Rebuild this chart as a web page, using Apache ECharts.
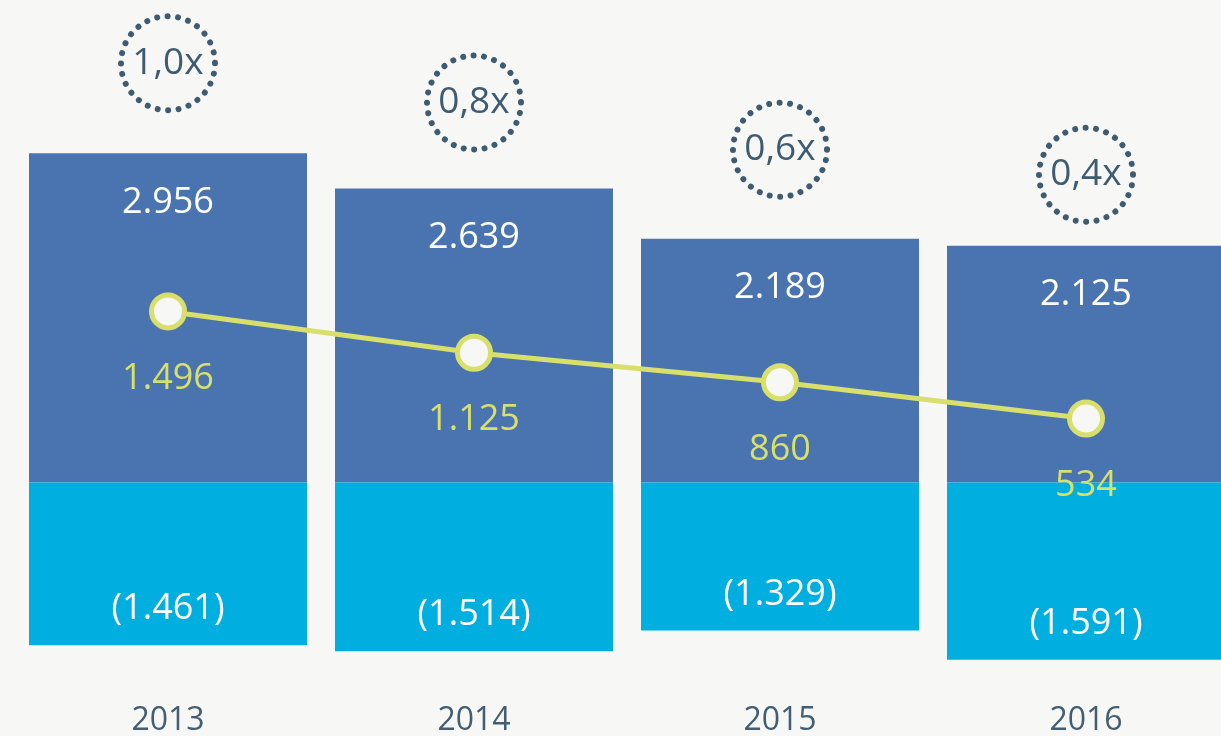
<!DOCTYPE html>
<html>
<head>
<meta charset="utf-8">
<script src="https://cdn.jsdelivr.net/npm/echarts@6/dist/echarts.min.js"></script>
<style>
html,body{margin:0;padding:0;background:#f7f7f5;}
#c{width:1221px;height:736px;}
</style>
</head>
<body>
<div id="c"></div>
<script>
const years = ['2013', '2014', '2015', '2016'];
const positiveValues = [2956, 2639, 2189, 2125];
const negativeValues = [-1461, -1514, -1329, -1591];
const netValues = [1496, 1125, 860, 534];
const ratioLabels = ['1,0x', '0,8x', '0,6x', '0,4x'];

const circleOffsets = [-90, -86, -89, -71];
const FONT = '"Open Sans", "Noto Sans", sans-serif';
const fmt = v => Math.abs(v).toString().replace(/\B(?=(\d{3})+(?!\d))/g, '.');

const chart = echarts.init(document.getElementById('c'));
chart.setOption({
  backgroundColor: '#f7f7f5',
  animation: false,
  grid: { left: 15, top: 37, width: 1224, height: 646, outerBoundsMode: 'none', containLabel: false },
  xAxis: {
    type: 'category',
    data: years,
    axisLine: { show: false },
    axisTick: { show: false },
    axisLabel: { color: '#415e74', fontSize: 32, fontFamily: FONT, margin: 22 }
  },
  yAxis: [
    { type: 'value', min: -1800, max: 4000, show: false },
    { type: 'value', min: -1840, max: 3960, show: false }
  ],
  series: [
    {
      type: 'bar', stack: 'a', data: positiveValues, barWidth: 278,
      itemStyle: { color: '#4a74b0' },
      label: { show: true, position: 'insideTop', distance: 31, color: '#ffffff',
        fontSize: 36, fontFamily: FONT, formatter: p => fmt(p.value) }
    },
    {
      type: 'bar', stack: 'a', data: negativeValues, barWidth: 278,
      itemStyle: { color: '#00afe0' },
      label: { show: true, position: 'insideBottom', distance: 18, color: '#ffffff',
        fontSize: 36, fontFamily: FONT, formatter: p => '(' + fmt(p.value) + ')' }
    },
    {
      type: 'line', data: netValues, yAxisIndex: 1, z: 5,
      lineStyle: { color: '#d9df6b', width: 5 },
      symbol: 'circle', symbolSize: 33,
      itemStyle: { color: '#f7f7f5', borderColor: '#d9df6b', borderWidth: 5 },
      label: { show: true, position: 'bottom', distance: 30, color: '#d9df6b',
        fontSize: 36, fontFamily: FONT, formatter: p => fmt(p.value) }
    },
    {
      type: 'scatter', z: 6,
      data: positiveValues.map((v, i) => ({
        value: v,
        symbolOffset: [0, circleOffsets[i]],
        label: { formatter: ratioLabels[i] }
      })),
      symbol: 'circle', symbolSize: 94,
      itemStyle: { color: 'rgba(0,0,0,0)', borderColor: '#3e5b72', borderWidth: 6,
        borderType: [0.01, 10.5], borderCap: 'round', opacity: 1 },
      label: { show: true, position: 'inside', color: '#3e5b72', fontSize: 37, fontFamily: FONT }
    }
  ]
});
</script>
</body>
</html>
